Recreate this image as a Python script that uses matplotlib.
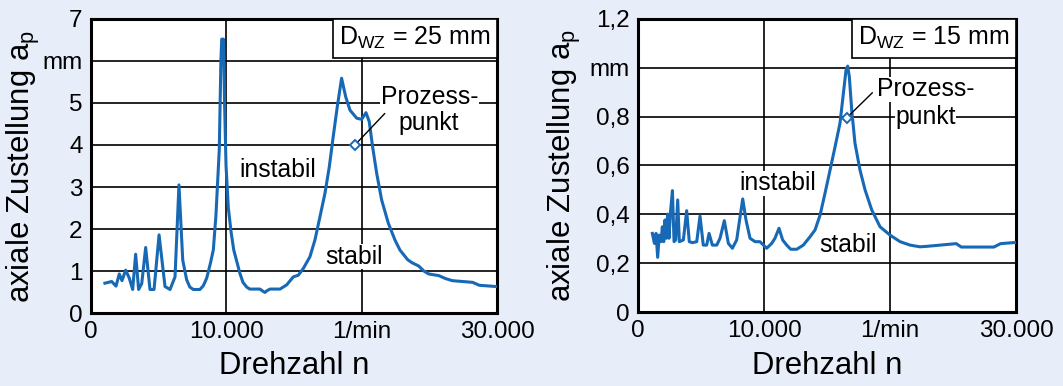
import matplotlib.pyplot as plt
from matplotlib.offsetbox import AnchoredText

plt.rcParams['font.family'] = ['Liberation Sans', 'DejaVu Sans']
plt.rcParams['mathtext.fontset'] = 'custom'
plt.rcParams['mathtext.rm'] = 'Liberation Sans'

# Stabilitaetskarte D_WZ = 25 mm
n_25 = [1030, 1530, 1850, 2090, 2290, 2560, 2830, 3080, 3300, 3520, 3750, 4040,
        4360, 4660, 5030, 5470, 5840, 6210, 6500, 6780, 7070, 7300, 7560, 8050,
        8300, 8550, 8800, 9040, 9230, 9480, 9600, 9660, 9790, 9870, 9980, 10150,
        10360, 10550, 10730, 11000, 11230, 11500, 11730, 12480, 12700, 12850,
        13000, 13230, 13970, 14460, 14950, 15320, 15690, 16180, 16550, 16920,
        17290, 17610, 17900, 18200, 18520, 18820, 19140, 19630, 20000, 20320,
        20560, 20810, 21110, 21480, 21970, 22460, 22830, 23400, 23710, 24210,
        24600, 24950, 25700, 26200, 26700, 28200, 28700, 29950]
ap_25 = [0.71, 0.75, 0.64, 0.93, 0.77, 1.02, 0.83, 0.56, 1.40, 0.56, 0.70, 1.56,
         0.56, 0.56, 1.86, 0.63, 0.56, 0.86, 3.05, 1.26, 0.79, 0.62, 0.56, 0.56,
         0.65, 0.83, 1.15, 1.50, 2.31, 3.89, 6.00, 6.52, 6.52, 5.00, 3.50, 2.50,
         1.91, 1.50, 1.28, 0.95, 0.73, 0.62, 0.57, 0.57, 0.52, 0.49,
         0.53, 0.57, 0.57, 0.67, 0.86, 0.90, 1.06, 1.34, 1.74, 2.29,
         2.85, 3.48, 4.20, 4.91, 5.59, 5.15, 4.83, 4.64, 4.61, 4.77,
         4.56, 3.96, 3.33, 2.69, 2.14, 1.74, 1.50, 1.27, 1.20, 1.12,
         1.00, 0.93, 0.89, 0.82, 0.77, 0.73, 0.66, 0.63]

# Stabilitaetskarte D_WZ = 15 mm
n_15 = [1140, 1300, 1430, 1560, 1690, 1830, 1930, 2040, 2140, 2250, 2350, 2460,
        2570, 2730, 2860, 2990, 3150, 3280, 3600, 3860, 4070, 4310, 4660, 4920,
        5180, 5450, 5640, 5900, 6250, 6510, 6850, 7170, 7490, 7830, 8100, 8310,
        8570, 8890, 9290, 9680, 10210, 10610, 10870, 11190, 11480, 11800, 12120,
        12600, 13120, 13650, 14050, 14450, 14840, 15240, 15640, 16030, 16300,
        16510, 16640, 16770, 16960, 17220, 17620, 18020, 18550, 19210, 20000,
        20800, 21590, 22380, 22940, 25250, 25660, 28240, 28780, 30000]
ap_15 = [0.322, 0.281, 0.322, 0.224, 0.315, 0.288, 0.349, 0.288, 0.377, 0.302, 0.401, 0.302,
         0.404, 0.497, 0.288, 0.295, 0.459, 0.288, 0.295, 0.415, 0.288, 0.284, 0.288, 0.393,
         0.274, 0.274, 0.322, 0.274, 0.274, 0.302, 0.374, 0.281, 0.261, 0.295, 0.390, 0.463,
         0.377, 0.302, 0.288, 0.288, 0.261, 0.281, 0.302, 0.343, 0.295, 0.274, 0.257,
         0.257, 0.274, 0.308, 0.336, 0.397, 0.486, 0.581, 0.677, 0.773, 0.896,
         0.991, 1.007, 0.964, 0.827, 0.691, 0.581, 0.500, 0.418, 0.349, 0.315,
         0.288, 0.274, 0.267, 0.269, 0.280, 0.266, 0.266, 0.280, 0.285]

bg = '#e7eef9'
blue = '#1769b5'

fig = plt.figure(figsize=(10.63, 3.86), dpi=100, facecolor=bg)
ax1 = fig.add_axes([0.0856, 0.1891, 0.3819, 0.7617])
ax2 = fig.add_axes([0.6002, 0.1917, 0.3556, 0.7591])

panels = [
    dict(ax=ax1, n=n_25, ap=ap_25, ymax=7, yt=[0, 1, 2, 3, 4, 5, 6, 7],
         ytl=['0', '1', '2', '3', '4', '5', 'mm', '7'], d='25',
         pp=(19500, 4.0), line_end=(21710, 4.75), t1=(25010, 5.15), t2=(24960, 4.52),
         inst=(13780, 3.40), stab=(19470, 1.34), ylx=-0.120, xly=-0.129),
    dict(ax=ax2, n=n_15, ap=ap_15, ymax=1.2, yt=[0, 0.2, 0.4, 0.6, 0.8, 1.0, 1.2],
         ytl=['0', '0,2', '0,4', '0,6', '0,8', 'mm', '1,2'], d='15',
         pp=(16560, 0.795), line_end=(18600, 0.898), t1=(22800, 0.912), t2=(22800, 0.80),
         inst=(11080, 0.527), stab=(16700, 0.274), ylx=-0.145, xly=-0.133),
]

for p in panels:
    ax = p['ax']
    ax.set_facecolor('white')
    ax.plot(p['n'], p['ap'], color=blue, lw=2.2, zorder=3, solid_joinstyle='round')
    ax.plot(*p['pp'], marker='D', ms=5, mfc='white', mec=blue, mew=1.4, zorder=4)
    ax.set_xlim(0, 30000)
    ax.set_ylim(0, p['ymax'])
    ax.set_xticks([0, 10000, 20000, 30000])
    ax.set_xticklabels(['0', '10.000', '1/min', '30.000'])
    ax.set_yticks(p['yt'])
    ax.set_yticklabels(p['ytl'])
    ax.tick_params(length=0, labelsize=17.5, pad=6)
    ax.grid(True, color='black', lw=1.2)
    ax.set_axisbelow(True)
    for s in ax.spines.values():
        s.set_linewidth(2.2)
    ax.set_xlabel('Drehzahl n', fontsize=22.4)
    ax.xaxis.set_label_coords(0.5, p['xly'])
    ax.set_ylabel(r'axiale Zustellung a$_\mathregular{p}$', fontsize=22.4)
    ax.yaxis.set_label_coords(p['ylx'], 0.5)

    at = AnchoredText(r'D$_\mathregular{WZ}$ = ' + p['d'] + ' mm', loc='upper right',
                      prop=dict(size=18), pad=0.25, borderpad=0, frameon=True)
    at.patch.set_edgecolor('black')
    at.patch.set_linewidth(1.2)
    ax.add_artist(at)

    box = dict(facecolor='white', edgecolor='none', pad=0.3)
    ax.annotate('', xy=p['pp'], xytext=p['line_end'],
                arrowprops=dict(arrowstyle='-', color='black', lw=1.0,
                                shrinkA=0, shrinkB=3))
    ax.text(*p['t1'], 'Prozess-', ha='center', va='center', fontsize=17.8, bbox=box, zorder=2)
    ax.text(*p['t2'], 'punkt', ha='center', va='center', fontsize=17.8, bbox=box, zorder=2)
    ax.text(*p['inst'], 'instabil', ha='center', va='center', fontsize=17.8, bbox=box, zorder=2)
    ax.text(*p['stab'], 'stabil', ha='center', va='center', fontsize=17.8, bbox=box, zorder=2)

fig.savefig('out.png', dpi=100, facecolor=bg)
